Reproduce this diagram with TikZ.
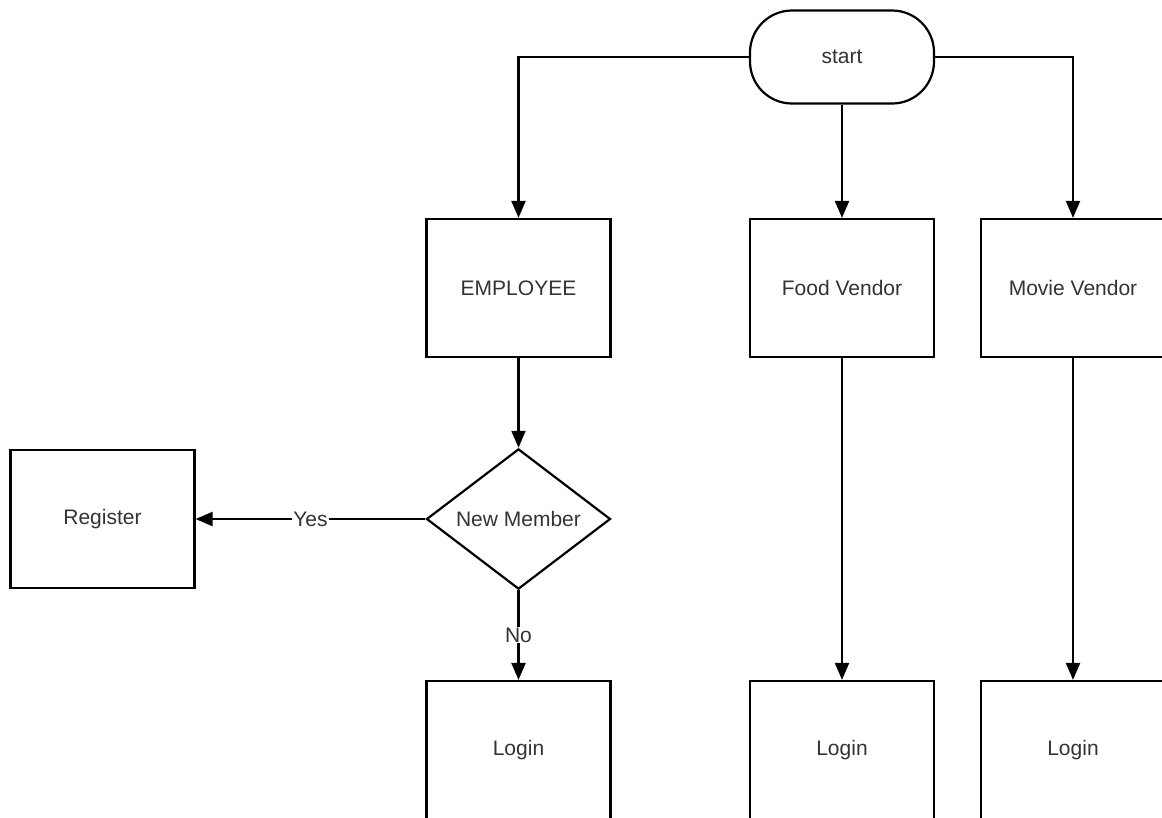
\documentclass[tikz,border=0pt]{standalone}
\usepackage{fontspec}
\setmainfont{Liberation Sans}
\usetikzlibrary{arrows.meta,shapes.geometric}
\definecolor{txt}{HTML}{333333}
\begin{document}
\begin{tikzpicture}[x=1pt,y=-1pt,
  every node/.style={font=\fontsize{21}{25}\selectfont,text=txt},
  box/.style={draw=black,line width=2.2pt,minimum width=184pt,minimum height=138pt,inner sep=0pt},
  term/.style={draw=black,line width=2.2pt,minimum width=184pt,minimum height=93pt,rounded corners=42pt,inner sep=0pt},
  dec/.style={draw=black,line width=2.2pt,diamond,minimum width=184pt,minimum height=138pt,inner sep=0pt},
  conn/.style={draw=black,line width=2.2pt,-{Triangle[length=17pt,width=14pt]}},
  lbl/.style={fill=white,inner sep=1pt}]
\useasboundingbox (0,0) rectangle (1162,817);
\clip (0,0) rectangle (1162,817);
\node[term] (start) at (842,57) {start};
\node[box] (emp) at (518.5,288) {EMPLOYEE};
\node[box] (food) at (842,288) {Food Vendor};
\node[box] (movie) at (1073,288) {Movie Vendor};
\node[dec] (nm) at (518.5,519) {New Member};
\node[box] (reg) at (102.5,519) {Register};
\node[box] (l1) at (518.5,750) {Login};
\node[box] (l2) at (842,750) {Login};
\node[box] (l3) at (1073,750) {Login};
\draw[conn] (start.west) -| (emp.north);
\draw[conn] (start.east) -| (movie.north);
\draw[conn] (start.south) -- (food.north);
\draw[conn] (emp.south) -- (nm.north);
\draw[conn] (nm.west) -- node[lbl]{Yes} (reg.east);
\draw[conn] (nm.south) -- node[lbl]{No} (l1.north);
\draw[conn] (food.south) -- (l2.north);
\draw[conn] (movie.south) -- (l3.north);
\end{tikzpicture}
\end{document}
